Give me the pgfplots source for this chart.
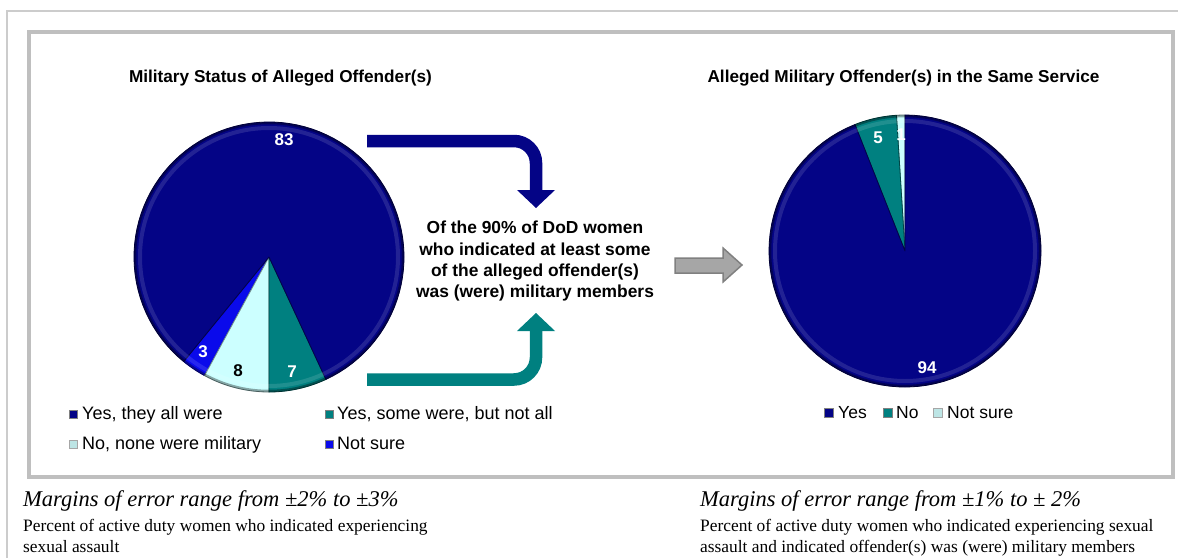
\documentclass[border=0pt]{standalone}
\usepackage{pgfplots}
\pgfplotsset{compat=1.18}
\usepackage{fontspec}
\setmainfont{Liberation Serif}
\newfontfamily\arial{Liberation Sans}
\definecolor{pnavy}{RGB}{4,4,134}
\definecolor{pteal}{RGB}{0,128,128}
\definecolor{pcyan}{RGB}{204,255,255}
\definecolor{pblue}{RGB}{10,10,235}
\definecolor{framegray}{RGB}{191,191,191}
\definecolor{outergray}{RGB}{204,204,204}
\definecolor{arrgray}{RGB}{166,166,166}
\definecolor{arrgrayd}{RGB}{128,128,128}

\newcommand{\pieinit}[4]{\xdef\pcx{#1}\xdef\pcy{#2}\xdef\prad{#3}\xdef\curang{#4}}
% \pieslice{value}{total}{colour}
\newcommand{\pieslice}[3]{%
  \pgfmathsetmacro\angA{\curang}%
  \pgfmathsetmacro\angB{\curang+#1/#2*360}%
  \edef\doslice{\noexpand\addplot[fill=#3, draw=#3!55!black, line width=0.8pt, line join=round, domain=\angA:\angB, samples=90] ({\pcx+\prad*cos(x)},{\pcy-\prad*sin(x)}) -- (\pcx,\pcy) -- cycle;}%
  \doslice
  \xdef\curang{\angB}%
}

\tikzset{
  ttl/.style={font=\arial\bfseries\fontsize{17.2}{20}\selectfont, anchor=base, inner sep=0pt},
  ctr/.style={font=\arial\bfseries\fontsize{17.4}{20}\selectfont, anchor=base, inner sep=0pt},
  leg/.style={font=\arial\fontsize{18}{20}\selectfont, anchor=base west, inner sep=0pt},
  legr/.style={font=\arial\fontsize{17.5}{20}\selectfont, anchor=base west, inner sep=0pt},
  lbl/.style={font=\arial\bfseries\fontsize{17}{20}\selectfont, inner sep=0pt, text=white},
  fti/.style={font=\itshape\fontsize{22.5}{24}\selectfont, anchor=base west, inner sep=0pt},
  ftb/.style={font=\fontsize{17.4}{20}\selectfont, anchor=base west, inner sep=0pt},
}

\begin{document}
\begin{tikzpicture}
\begin{axis}[name=ax, x=1pt, y=1pt, xmin=0, xmax=1178, ymin=0, ymax=557,
  y dir=reverse, hide axis, clip=false, no markers, anchor=south west, at={(0,0)}]
\fill[white] (0,0) rectangle (1178,557);
% frames
\draw[outergray, line width=1.5pt] (7,560) -- (7,11) -- (1182,11);
\draw[framegray, line width=4pt] (29,32) rectangle (1173,477);

% titles
\node[ttl] at (280.5,82) {Military Status of Alleged Offender(s)};
\node[ttl] at (903.5,82) {Alleged Military Offender(s) in the Same Service};

% left pie: Not sure, No none, Yes some, Yes all (counter-clockwise)
\pieinit{269}{257}{135}{230.8}
\pieslice{3}{101}{pblue}
\pieslice{8}{101}{pcyan}
\pieslice{7}{101}{pteal}
\pieslice{83}{101}{pnavy}
\draw[black, opacity=0.35, line width=2.5pt] (269,257) circle[radius=134pt];
\draw[white, opacity=0.12, line width=4pt] (269,257) circle[radius=129pt];

% right pie: Not sure, No, Yes
\pieinit{905}{251}{136}{90}
\pieslice{1}{100}{pcyan}
\pieslice{5}{100}{pteal}
\pieslice{94}{100}{pnavy}
\draw[black, opacity=0.35, line width=2.5pt] (905,251) circle[radius=135pt];
\draw[white, opacity=0.12, line width=4pt] (905,251) circle[radius=130pt];

% data labels
\node[lbl] at (284,140) {83};
\node[lbl] at (203,352) {3};
\node[lbl, text=black] at (238,371) {8};
\node[lbl] at (292,372) {7};
\node[lbl] at (878,138) {5};
\node[lbl] at (901,135) {1};
\node[lbl] at (927,368) {94};

% arrows
\draw[pnavy, line width=12.5pt, rounded corners=22pt] (367,141) -| (536,192);
\fill[pnavy] (517,190) -- (555,190) -- (536,208) -- cycle;
\draw[pteal, line width=12.5pt, rounded corners=22pt] (367,379.5) -| (536,329);
\fill[pteal] (517,331) -- (555,331) -- (536,313) -- cycle;
\filldraw[fill=arrgray, draw=arrgrayd, line width=1.5pt, line join=miter]
  (675,258) -- (723,258) -- (723,248) -- (742,265) -- (723,282) -- (723,273) -- (675,273) -- cycle;

% centre text
\node[ctr] at (535,233) {Of the 90\% of DoD women};
\node[ctr] at (535,255) {who indicated at least some};
\node[ctr] at (535,276) {of the alleged offender(s)};
\node[ctr] at (535,297) {was (were) military members};

% left legend
\filldraw[fill=pnavy, draw=black!50, line width=0.5pt] (69,410) rectangle (77.5,418.5);
\node[leg] at (82,419) {Yes, they all were};
\filldraw[fill=pteal, draw=black!50, line width=0.5pt] (325,410) rectangle (333.5,418.5);
\node[leg] at (337,419) {Yes, some were, but not all};
\filldraw[fill=pcyan!80!gray, draw=black!35, line width=0.5pt] (69,440) rectangle (77.5,448.5);
\node[leg] at (82,449) {No, none were military};
\filldraw[fill=pblue, draw=black!50, line width=0.5pt] (325,440) rectangle (333.5,448.5);
\node[leg] at (337,449) {Not sure};

% right legend
\filldraw[fill=pnavy, draw=black!50, line width=0.5pt] (824,408.5) rectangle (833,417.5);
\node[legr] at (838,418) {Yes};
\filldraw[fill=pteal, draw=black!50, line width=0.5pt] (883,408.5) rectangle (892,417.5);
\node[legr] at (896,418) {No};
\filldraw[fill=pcyan!80!gray, draw=black!35, line width=0.5pt] (933,408.5) rectangle (942,417.5);
\node[legr] at (947,418) {Not sure};

% footnotes
\node[fti] at (23,506) {Margins of error range from ±2\% to ±3\%};
\node[ftb] at (23,531.5) {Percent of active duty women who indicated experiencing};
\node[ftb] at (23,552) {sexual assault};
\node[fti] at (700,506) {Margins of error range from ±1\% to ± 2\%};
\node[ftb] at (700,531.5) {Percent of active duty women who indicated experiencing sexual};
\node[ftb] at (700,552) {assault and indicated offender(s) was (were) military members};
\end{axis}
\pgfresetboundingbox
\path (ax.south west) rectangle (ax.north east);
\end{tikzpicture}
\end{document}
